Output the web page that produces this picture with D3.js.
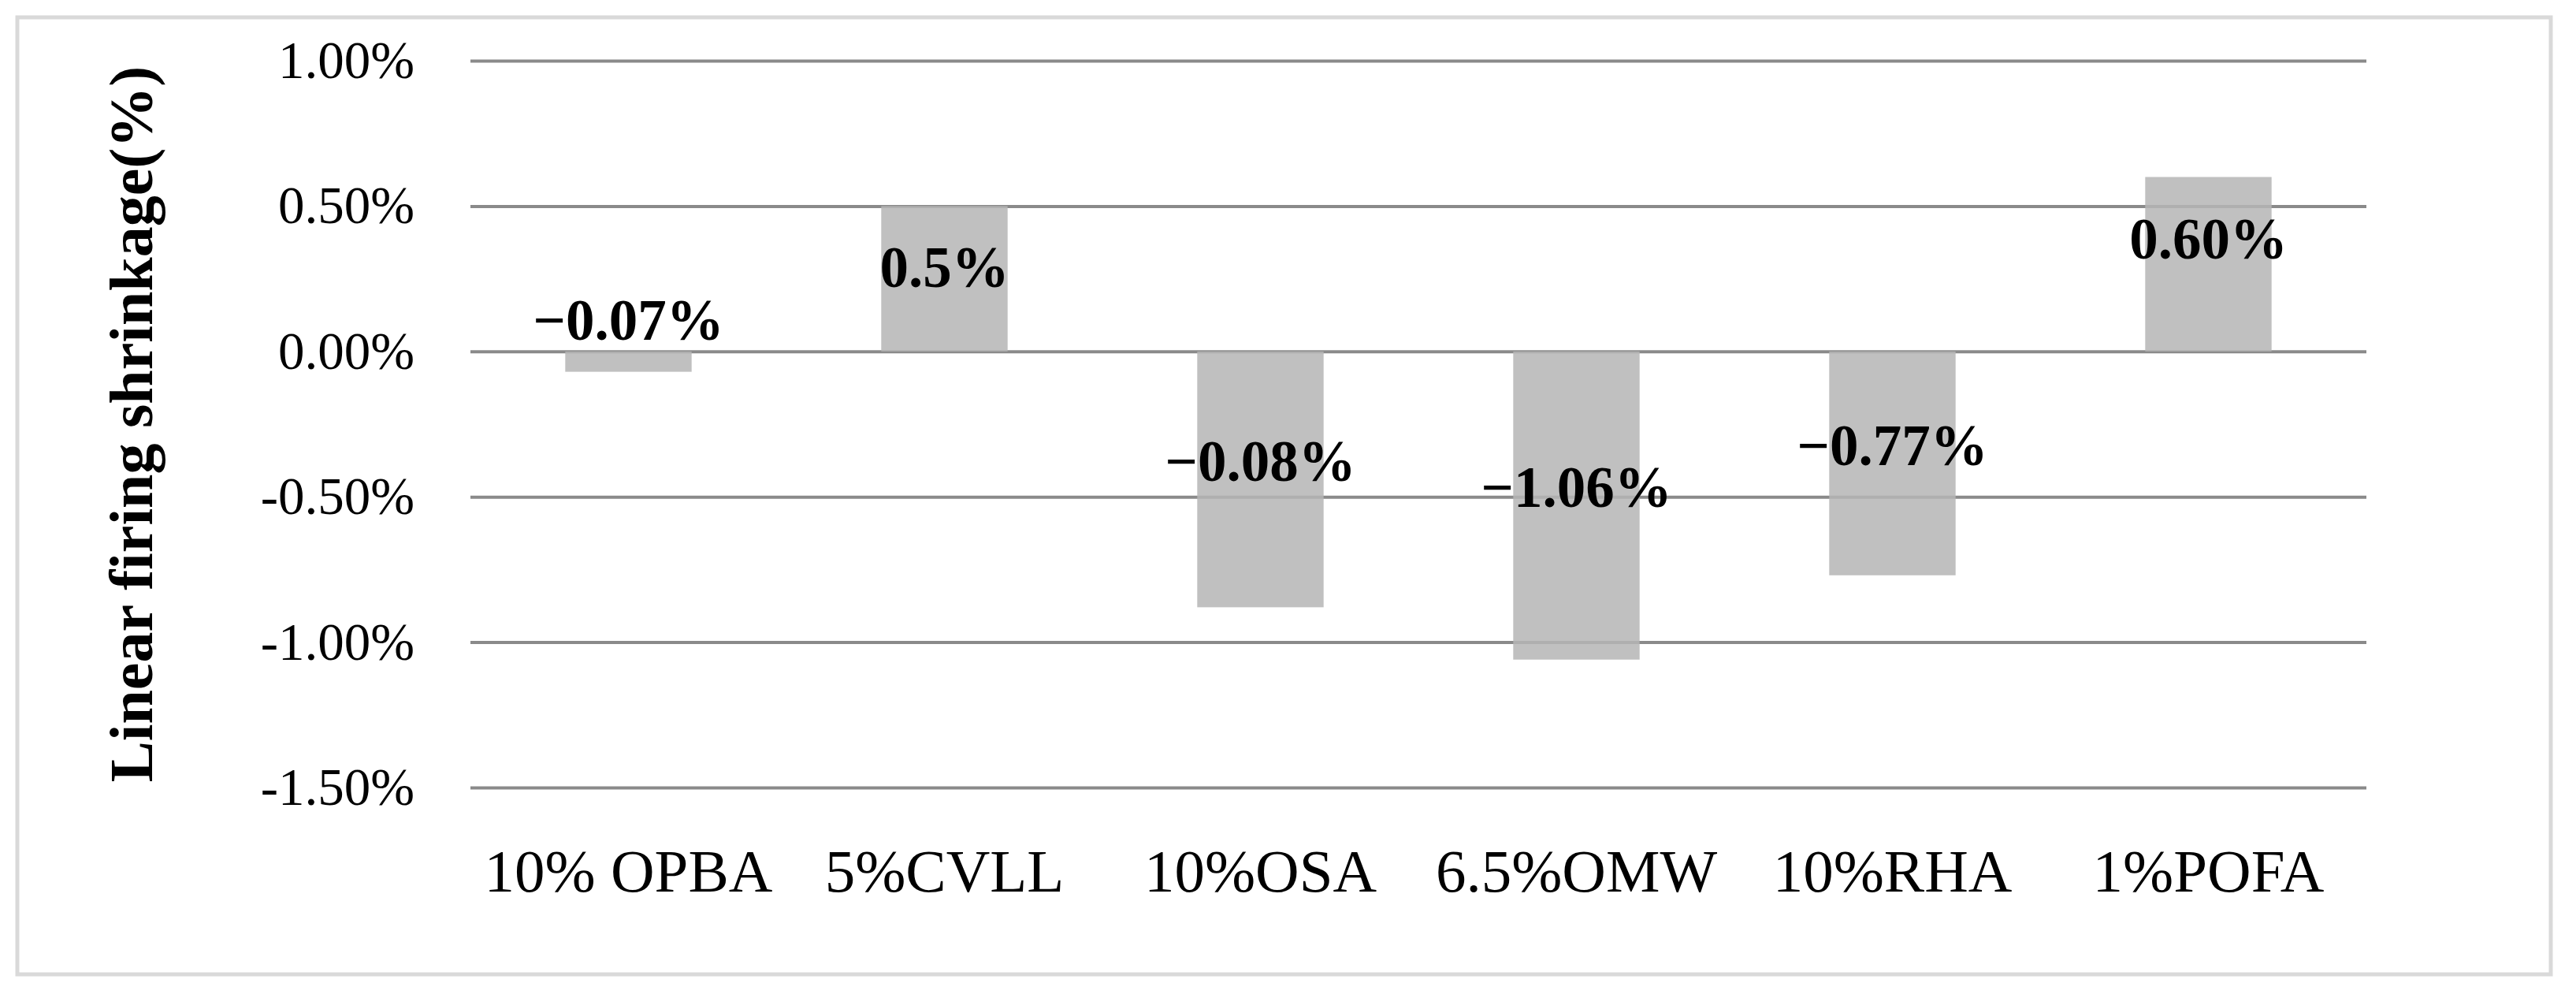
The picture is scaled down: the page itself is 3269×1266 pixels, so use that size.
<!DOCTYPE html>
<html>
<head>
<meta charset="utf-8">
<script src="https://cdn.jsdelivr.net/npm/d3@7"></script>
<style>
  body { margin: 0; background: #fff; }
  text { font-family: "Liberation Serif", "Times New Roman", serif; fill: #000; }
</style>
</head>
<body>
<svg width="3269" height="1266"></svg>
<script>
var categories = ["10% OPBA", "5%CVLL", "10%OSA", "6.5%OMW", "10%RHA", "1%POFA"];
var values = [-0.07, 0.5, -0.88, -1.06, -0.77, 0.60];
var valueLabels = ["\u22120.07%", "0.5%", "\u22120.08%", "\u22121.06%", "\u22120.77%", "0.60%"];
var tickValues = [1, 0.5, 0, -0.5, -1, -1.5];
var tickLabels = ["1.00%", "0.50%", "0.00%", "-0.50%", "-1.00%", "-1.50%"];

var svg = d3.select("svg"),
  width = +svg.attr("width"),
  height = +svg.attr("height");

var plotLeft = 597, plotRight = 3003, plotTop = 77, plotBottom = 999;

// outer frame
svg.append("rect")
  .attr("x", 22).attr("y", 22)
  .attr("width", 3215).attr("height", 1214)
  .attr("fill", "#fff")
  .attr("stroke", "#d9d9d9")
  .attr("stroke-width", 5);

var x = d3.scaleBand()
  .domain(categories)
  .range([plotLeft, plotRight])
  .paddingInner(0.6)
  .paddingOuter(0.3);

var y = d3.scaleLinear()
  .domain([-1.5, 1])
  .range([plotBottom, plotTop]);

// gridlines + tick labels
var yAxis = svg.append("g")
  .attr("transform", "translate(" + plotLeft + ",0)")
  .call(d3.axisLeft(y)
    .tickValues(tickValues)
    .tickSize(-(plotRight - plotLeft))
    .tickPadding(71)
    .tickFormat(function (d, i) { return tickLabels[i]; }));

yAxis.select(".domain").remove();
yAxis.selectAll(".tick line")
  .attr("stroke", "#8a8a8a")
  .attr("stroke-width", 4);
yAxis.selectAll(".tick text")
  .attr("font-size", "67px")
  .attr("dy", "0.32em");

// bars
svg.append("g")
  .selectAll("rect")
  .data(values)
  .enter()
  .append("rect")
  .attr("x", function (d, i) { return x(categories[i]); })
  .attr("width", x.bandwidth())
  .attr("y", function (d) { return y(Math.max(0, d)); })
  .attr("height", function (d) { return Math.abs(y(d) - y(0)); })
  .attr("fill", "#b5b5b5")
  .attr("fill-opacity", 0.85);

// value labels
svg.append("g")
  .selectAll("text")
  .data(values)
  .enter()
  .append("text")
  .attr("x", function (d, i) { return x(categories[i]) + x.bandwidth() / 2; })
  .attr("y", function (d) {
    var h = Math.abs(y(d) - y(0));
    if (d >= 0) return y(d) + 103;          // inside end
    if (h < 80) return y(0) - 15;           // too short: above zero line
    return (y(0) + y(d)) / 2 + 2;           // centred
  })
  .attr("text-anchor", "middle")
  .attr("font-size", "73px")
  .attr("font-weight", "bold")
  .text(function (d, i) { return valueLabels[i]; });

// category axis
var xAxis = svg.append("g")
  .attr("transform", "translate(0," + plotBottom + ")")
  .call(d3.axisBottom(x).tickSize(0).tickPadding(77));
xAxis.select(".domain").remove();
xAxis.selectAll(".tick text")
  .attr("font-size", "77px");

// y title
svg.append("text")
  .attr("transform", "translate(193," + (plotTop + plotBottom) / 2 + ") rotate(-90)")
  .attr("text-anchor", "middle")
  .attr("font-size", "78px")
  .attr("font-weight", "bold")
  .text("Linear firing shrinkage(%)");
</script>
</body>
</html>
